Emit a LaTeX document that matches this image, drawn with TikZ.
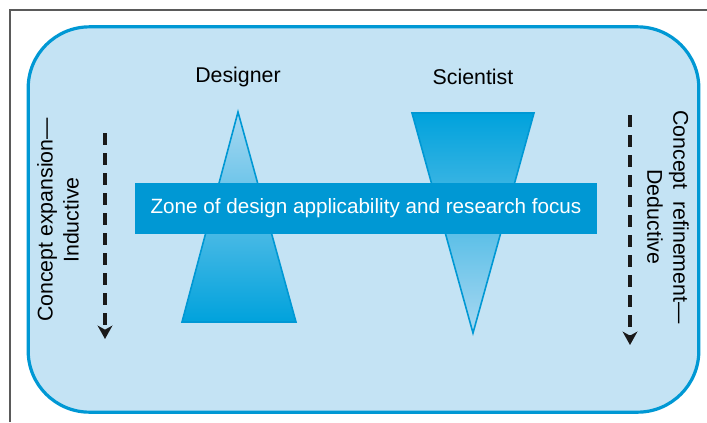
\documentclass[tikz,border=0pt]{standalone}
\usepackage{fontspec}
\setmainfont{Liberation Sans}
\usetikzlibrary{arrows.meta}
\definecolor{zoneBlue}{HTML}{0098D4}
\definecolor{paleBlue}{HTML}{C4E3F4}
\definecolor{lightTri}{HTML}{A9D8F1}
\definecolor{deepTri}{HTML}{00A2DC}
\definecolor{frameGray}{HTML}{5A5A5A}
\definecolor{arrowInk}{HTML}{1A1A1A}

\begin{document}
\begin{tikzpicture}[x=0.75pt, y=-0.75pt, font=\fontsize{16}{19.5}\selectfont,
  flowarrow/.style={arrowInk, line width=2.6pt, dash pattern=on 9pt off 6pt, -{Stealth[length=10pt, width=11pt, inset=3pt]}},
  sidelabel/.style={align=center, inner sep=0pt},
  trishade/.style={draw=zoneBlue, line width=1.2pt}]
\useasboundingbox (0,0) rectangle (707,422);
\draw[frameGray, line width=1.2pt] (10,422) -- (10,10) -- (707,10);
\node[draw=zoneBlue, line width=2.4pt, fill=paleBlue, rounded corners=46pt, minimum width=503pt, minimum height=289pt, inner sep=0pt] (panel) at (363.5,219.5) {};
\node (designer) at (238,77) {Designer};
\node (scientist) at (473,77) {Scientist};
\shade[trishade, top color=lightTri, bottom color=deepTri] (238,112) -- (296,322) -- (182,322) -- cycle;
\shade[trishade, top color=deepTri, bottom color=lightTri] (412,113) -- (534,113) -- (473,333) -- cycle;
\node[fill=zoneBlue, text=white, minimum width=346.5pt, minimum height=38.25pt, inner sep=0pt, font=\fontsize{15.5}{18}\selectfont] (band) at (366,208.5) {Zone of design applicability and research focus};
\node[sidelabel, rotate=90] (inductive) at (58,220) {Concept expansion—\\Inductive};
\node[sidelabel, rotate=-90] (deductive) at (668,217) {Concept\ \ refinement—\\Deductive};
\coordinate (indTop) at (105,133);
\coordinate (indEnd) at (105,339);
\coordinate (dedTop) at (630,115);
\coordinate (dedEnd) at (630,345);
\draw[flowarrow] (indTop) -- (indEnd);
\draw[flowarrow] (dedTop) -- (dedEnd);
\end{tikzpicture}
\end{document}
